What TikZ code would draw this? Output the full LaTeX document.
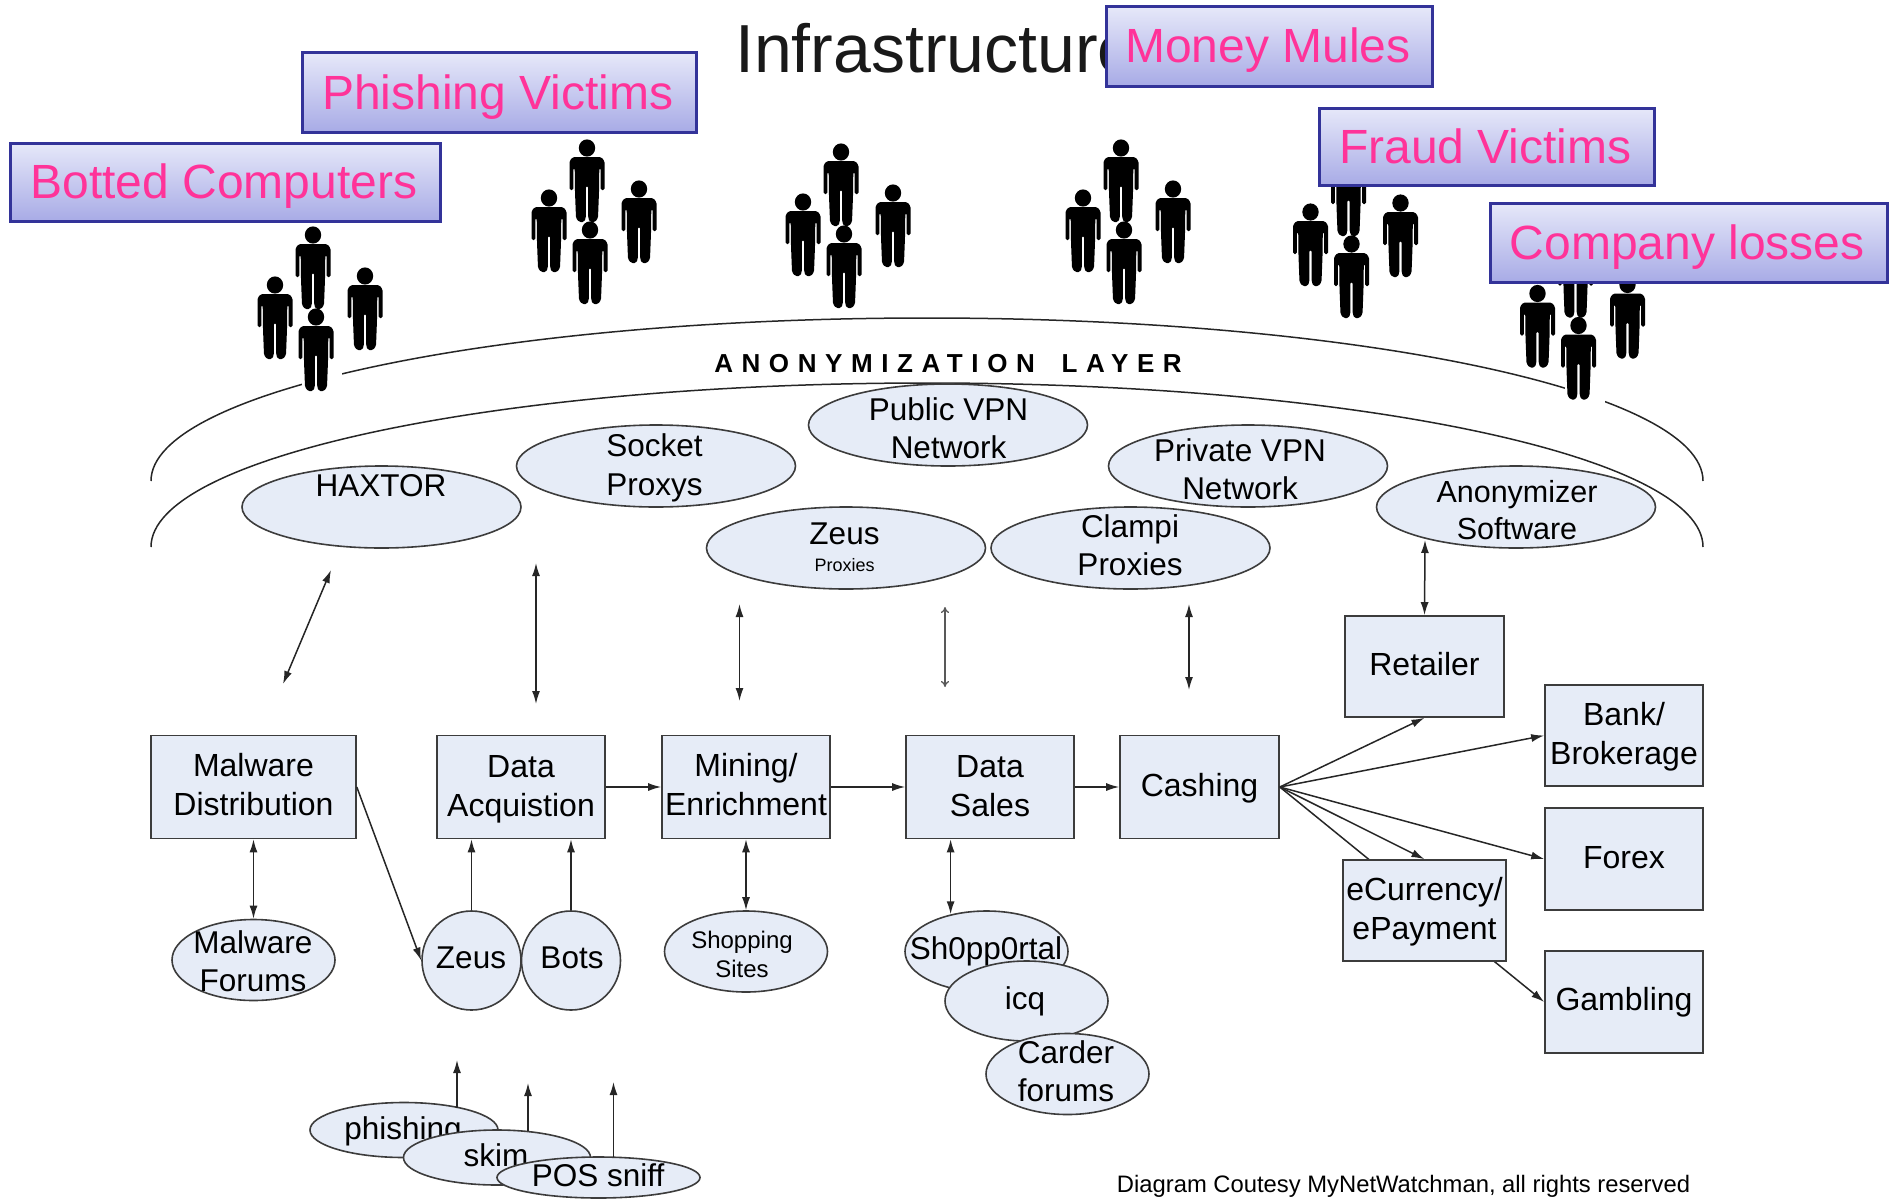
\documentclass[tikz,border=0pt]{standalone}
\usepackage{fontspec}
\setmainfont{Liberation Sans}
\usetikzlibrary{shapes.geometric,arrows.meta,calc}
\pgfdeclarelayer{back}
\pgfsetlayers{back,main}
\definecolor{nodefill}{HTML}{E6ECF7}
\definecolor{nodeline}{HTML}{3C3C3C}
\definecolor{bannerline}{HTML}{333399}
\definecolor{bannertop}{HTML}{E6E8F9}
\definecolor{bannerbot}{HTML}{A8ABE6}
\definecolor{bannertext}{HTML}{FF3399}
\newcommand\lowrule[1]{\rule[-#1]{0pt}{#1}}
\newcommand\highrule[1]{\rule{0pt}{#1}}
\tikzset{
  x=1pt,y=-1pt,
  >={Latex[length=13pt,width=8pt]},
  link/.style={line width=1.5pt,draw=black!85},
  faint/.style={line width=1.3pt,draw=black!65,{To[length=6pt,width=8pt]}-{To[length=6pt,width=8pt]}},
  boxn/.style={draw=nodeline,fill=nodefill,line width=1.6pt,inner sep=0pt,align=center,font=\fontsize{32}{38.5}\selectfont},
  ell/.style={ellipse,draw=nodeline,fill=nodefill,line width=1.6pt,inner sep=0pt},
  lab/.style={inner sep=0pt,align=center,font=\fontsize{31.5}{38.5}\selectfont},
  banner/.style={draw=bannerline,line width=3pt,top color=bannertop,bottom color=bannerbot,text=bannertext,inner sep=0pt,text height=33pt,text depth=0pt,font=\fontsize{48}{52}\selectfont,execute at end node={\hspace{2.4pt}}},
  arcline/.style={line width=1.5pt,draw=black!85},
  person/.pic={
    \fill[black] (0,0) ellipse (8.2pt and 8.6pt);
    \fill[black,rounded corners=1.5pt] (-14,9)--(14,9)--(17.5,13)--(17.5,42)--(13.7,42)--(13.7,20)--(12.3,20)--(12,44)--(11,70)--(8,74)--(3,74)--(1.2,70)--(1.2,38)--(-1.2,38)--(-1.2,70)--(-3,74)--(-8,74)--(-11,70)--(-12,44)--(-12.3,20)--(-13.7,20)--(-13.7,42)--(-17.5,42)--(-17.5,13)--cycle;
  },
  halo/.pic={
    \fill[white] (-14,55) rectangle (26,82);
  },
  crowd/.pic={
    \pic at (0,0) {person};
    \pic at (-38,50) {person};
    \pic at (52,41) {person};
    \pic at (3,82) {halo};
    \pic at (3,82) {person};
  }
}
\begin{document}
\begin{tikzpicture}
\useasboundingbox (0,0) rectangle (1897,1199);
% title
\node[anchor=base west,inner sep=0pt,text=black!90,font=\fontsize{68}{70}\selectfont] (title) at (735,72) {Infrastructure};
% arcs
\coordinate (outerL) at (151,481);
\coordinate (innerL) at (151,547);
\draw[arcline] (outerL) arc[start angle=180,end angle=0,x radius=776pt,y radius=163pt];
\draw[arcline] (innerL) arc[start angle=180,end angle=0,x radius=776pt,y radius=164pt];
\node[inner sep=0pt,font=\fontsize{26}{30}\bfseries\addfontfeature{LetterSpace=33}\selectfont] (anon) at (948,364) {ANONYMIZATION\hspace{11pt} LAYER};
% crowds
\pic at (313,235) {crowd};
\pic at (587,148) {crowd};
\pic at (841,152) {crowd};
\pic at (1121,148) {crowd};
\pic at (1348.5,162) {crowd};
\pic at (1575.5,243.5) {crowd};
% banners
\node[banner,minimum width=430pt,minimum height=78pt] (bot) at (225,182) {Botted Computers};
\node[banner,minimum width=394pt,minimum height=79pt] (phi) at (499,92.5) {Phishing Victims};
\node[banner,minimum width=326pt,minimum height=79pt] (mon) at (1269,46.5) {Money Mules};
\node[banner,minimum width=335pt,minimum height=77pt] (fra) at (1486.5,146.5) {Fraud Victims};
\node[banner,minimum width=397pt,minimum height=79pt] (com) at (1688.5,242.5) {Company losses};
% upper ellipses
\node[ell,minimum width=279pt,minimum height=82pt] (hax) at (381.5,507) {};
\node[ell,minimum width=279pt,minimum height=82pt] (soc) at (656,466) {};
\node[ell,minimum width=279pt,minimum height=82pt] (pub) at (948,425) {};
\node[ell,minimum width=279pt,minimum height=82pt] (pri) at (1248,466) {};
\node[ell,minimum width=279pt,minimum height=82pt] (zpr) at (846,548) {};
\node[ell,minimum width=279pt,minimum height=82pt] (cla) at (1130.5,548) {};
\node[ell,minimum width=279pt,minimum height=82pt] (ano) at (1516,507) {};
\node[lab] (haxt) at (381,486) {HAXTOR};
\node[lab] (soct) at (654.5,468) {Socket\\Proxys};
\node[lab] (pubt) at (948.5,428) {Public VPN\\Network};
\node[lab] (prit) at (1240,469) {Private VPN\\Network};
\node[lab] (zprt) at (844.5,534) {Zeus};
\node[inner sep=0pt,font=\fontsize{18}{20}\selectfont] (zprs) at (844.5,565) {Proxies};
\node[lab] (clat) at (1130,545) {Clampi\\Proxies};
\node[lab,font=\fontsize{30.5}{37}\selectfont] (anot) at (1517,510) {Anonymizer\\Software};
% boxes
\node[boxn,minimum width=205pt,minimum height=103pt] (mal) at (253.5,787) {Malware\\Distribution\lowrule{5pt}};
\node[boxn,minimum width=168pt,minimum height=103pt] (dat) at (521,787) {\highrule{27pt}Data\\Acquistion};
\node[boxn,minimum width=168pt,minimum height=103pt] (min) at (746,787) {Mining/\\Enrichment\lowrule{5pt}};
\node[boxn,minimum width=168pt,minimum height=103pt] (sal) at (990,787) {Data\\Sales\lowrule{2.5pt}};
\node[boxn,minimum width=159pt,minimum height=103pt] (cas) at (1199.5,787) {\highrule{26pt}Cashing};
\node[boxn,minimum width=159pt,minimum height=101pt] (ret) at (1424.5,666.5) {Retailer\lowrule{5pt}};
\node[boxn,minimum width=158pt,minimum height=101pt] (ban) at (1624,735.5) {\highrule{26pt}Bank/\\Brokerage};
\node[boxn,minimum width=158pt,minimum height=102pt] (for) at (1624,859) {Forex\lowrule{2.5pt}};
\node[boxn,minimum width=163pt,minimum height=101pt] (ecu) at (1424.5,910.5) {\highrule{26pt}eCurrency/\\ePayment};
\node[boxn,minimum width=158pt,minimum height=102pt] (gam) at (1624,1002) {Gambling};
% lower ellipses
\node[ell,minimum width=163pt,minimum height=81pt] (maf) at (253.5,960) {};
\node[ell,minimum width=99pt,minimum height=99pt] (zeu) at (471.5,960.5) {};
\node[ell,minimum width=99pt,minimum height=99pt] (bts) at (571,960.5) {};
\node[ell,minimum width=163pt,minimum height=81pt] (sho) at (746,951.5) {};
\node[ell,minimum width=163pt,minimum height=81pt] (sh0) at (986.5,951.5) {};
\node[lab] (maft) at (253,961) {Malware\\Forums};
\node[lab] (zeut) at (471,958) {Zeus};
\node[lab] (btst) at (572,958) {Bots};
\node[lab,font=\fontsize{24}{29}\selectfont] (shot) at (742,954.5) {Shopping\\Sites};
\node[lab] (sh0t) at (986,951) {Sh0pp0rtal};
\node[ell,minimum width=163pt,minimum height=80pt] (icq) at (1026.5,1001) {};
\node[lab] (icqt) at (1025,1001) {icq};
\node[ell,minimum width=163pt,minimum height=81pt] (car) at (1067.5,1074) {};
\node[lab] (cart) at (1066,1071) {Carder\\forums};
% bottom ellipses
\node[ell,minimum width=188pt,minimum height=55pt] (phs) at (404,1130) {};
\node[lab] (phst) at (403,1131) {phishing};
\node[ell,minimum width=187pt,minimum height=55pt] (ski) at (497,1157.5) {};
\node[lab] (skit) at (496,1155) {skim};
\node[ell,minimum width=203pt,minimum height=41pt] (pos) at (598.5,1177.5) {};
\node[lab] (post) at (598,1175) {POS sniff};
\node[inner sep=0pt,font=\fontsize{23.8}{28}\selectfont] (foot) at (1403.5,1186) {Diagram Coutesy MyNetWatchman, all rights reserved};
% free ends of the floating connectors
\coordinate (a1t) at (331,570); \coordinate (a1b) at (283,684);
\coordinate (a2t) at (536,563); \coordinate (a2b) at (536,704);
\coordinate (a3t) at (739.5,604); \coordinate (a3b) at (739.5,701);
\coordinate (a4t) at (945,607); \coordinate (a4b) at (945,687);
\coordinate (a5t) at (1189,604); \coordinate (a5b) at (1189,690);
\coordinate (a6t) at (1425,540);
\coordinate (p1t) at (457,1060); \coordinate (p1b) at (457,1108);
\coordinate (p2t) at (528,1083); \coordinate (p2b) at (528,1131);
\coordinate (p3t) at (613.5,1082); \coordinate (p3b) at (613.5,1157);
% connectors
\draw[link,<->] (a1t) -- (a1b);
\draw[link,<->] (a2t) -- (a2b);
\draw[link,<->] (a3t) -- (a3b);
\draw[faint] (a4t) -- (a4b);
\draw[link,<->] (a5t) -- (a5b);
\draw[link,<->] (a6t) -- (ret.north);
\draw[link,->] (dat.east) -- (min.west);
\draw[link,->] (min.east) -- (sal.west);
\draw[link,->] (sal.east) -- (cas.west);
\draw[link,->] (cas.east) -- (ret.south);
\draw[link,->] (cas.east) -- (ban.west);
\draw[link,->] (cas.east) -- (for.west);
\draw[link,->] (cas.east) -- (ecu.north);
\begin{pgfonlayer}{back}
\draw[link,->] (cas.east) -- (gam.west);
\end{pgfonlayer}
\draw[link,->] (mal.east) -- (zeu.west);
\draw[link,<->] (mal.south) -- (maf.north);
\draw[link,->] (zeu.north) -- (zeu.north |- dat.south);
\draw[link,->] (bts.north) -- (bts.north |- dat.south);
\draw[link,<->] (min.south) -- (sho.north);
\draw[link,<->] (sh0.134 |- sal.south) -- (sh0.134);
\draw[link,->] (p1b) -- (p1t);
\draw[link,->] (p2b) -- (p2t);
\draw[link,->] (p3b) -- (p3t);
\end{tikzpicture}
\end{document}
